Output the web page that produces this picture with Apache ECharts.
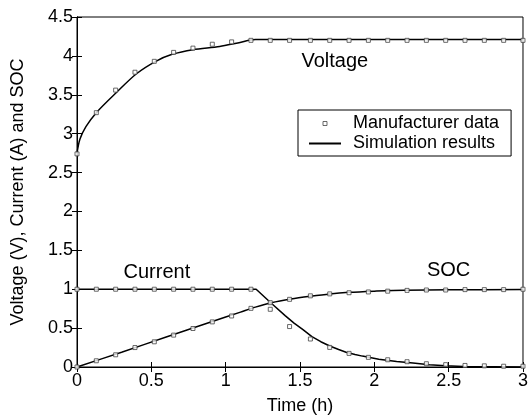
<!DOCTYPE html>
<html>
<head>
<meta charset="utf-8">
<script src="https://cdn.jsdelivr.net/npm/echarts@6/dist/echarts.min.js"></script>
<style>
  html, body { margin: 0; padding: 0; background: #fff; }
  #chart { width: 531px; height: 420px; }
</style>
</head>
<body>
<div id="chart"></div>
<script>
// Sample times of the manufacturer data (h)
const sampleTimes = [0, 0.13, 0.26, 0.39, 0.52, 0.65, 0.78, 0.91, 1.04, 1.17, 1.30, 1.43,
                     1.57, 1.70, 1.83, 1.96, 2.09, 2.22, 2.35, 2.48, 2.61, 2.74, 2.87, 3.00];
// Manufacturer data
const dataVoltage = [2.74, 3.27, 3.56, 3.79, 3.93, 4.045, 4.10, 4.15, 4.18, 4.20, 4.20, 4.20,
                     4.20, 4.20, 4.20, 4.20, 4.20, 4.20, 4.20, 4.20, 4.20, 4.20, 4.20, 4.20];
const dataCurrent = [1, 1, 1, 1, 1, 1, 1, 1, 1, 1, 0.742, 0.52,
                     0.36, 0.252, 0.175, 0.124, 0.093, 0.068, 0.042, 0.03, 0.02, 0.015, 0.01, 0.01];
const dataSOC = [0, 0.08, 0.157, 0.25, 0.324, 0.41, 0.495, 0.58, 0.656, 0.754, 0.827, 0.87,
                 0.915, 0.94, 0.955, 0.965, 0.975, 0.985, 0.99, 0.99, 0.995, 0.995, 0.995, 1.0];

// Simulation results
const simVoltageT = [0, 0.02, 0.06, 0.13, 0.26, 0.40, 0.53, 0.64, 0.78, 0.96, 1.09, 1.20, 3.0];
const simVoltage  = [2.75, 2.93, 3.09, 3.27, 3.52, 3.77, 3.93, 4.02, 4.08, 4.12, 4.17, 4.21, 4.21];
const simCurrentT = [0, 1.205, 1.307, 1.40, 1.46, 1.52, 1.58, 1.64, 1.70, 1.76, 1.81, 1.87, 1.92,
                     2.03, 2.15, 2.26, 2.37, 2.48, 2.6, 3.0];
const simCurrent  = [1, 1, 0.82, 0.66, 0.565, 0.48, 0.39, 0.325, 0.27, 0.225, 0.19, 0.16, 0.14,
                     0.10, 0.07, 0.05, 0.03, 0.015, 0.005, 0];
const simSocT = [0, 0.3, 0.6, 0.9, 1.1, 1.20, 1.307, 1.44, 1.57, 1.70, 1.83, 2.0, 2.2, 2.5, 3.0];
const simSoc  = [0, 0.19, 0.385, 0.578, 0.706, 0.77, 0.827, 0.875, 0.91, 0.94, 0.96, 0.975, 0.988, 0.993, 0.995];

const xTicks = [0, 0.5, 1, 1.5, 2, 2.5, 3];
const yTicks = [0, 0.5, 1, 1.5, 2, 2.5, 3, 3.5, 4, 4.5];

const FONT = '"Liberation Sans", Arial, Helvetica, sans-serif';
const pair = (xs, ys) => xs.map((x, i) => [x, ys[i]]);

const markerStyle = { color: '#fff', borderColor: '#444', borderWidth: 1 };
function dataSeries(values) {
  return {
    name: 'Manufacturer data', type: 'scatter', symbol: 'rect', symbolSize: 4,
    itemStyle: markerStyle, data: pair(sampleTimes, values), z: 3, silent: true
  };
}
function simSeries(xs, ys, smooth) {
  return {
    name: 'Simulation results', type: 'line', symbol: 'none', smooth: smooth,
    lineStyle: { color: '#000', width: 1.5 }, itemStyle: { color: '#000' },
    data: pair(xs, ys), z: 2, silent: true
  };
}

const chart = echarts.init(document.getElementById('chart'), null, { renderer: 'canvas' });

const axisCommon = {
  axisLine: { show: true, lineStyle: { color: '#000', width: 1 } },
  axisTick: { show: true, inside: true, length: 5, lineStyle: { color: '#000' } },
  splitLine: { show: false }
};

// Legend icon: a small hollow square centred in the 32px-wide icon slot
const squareIcon = 'path://M14,0 L18,0 L18,4 L14,4 Z M0,0 L0,0 M32,4 L32,4';

chart.setOption({
  animation: false,
  textStyle: { fontFamily: FONT },
  grid: { left: 77, right: 7, top: 17, bottom: 51, show: true, borderColor: '#000', borderWidth: 1 },
  legend: {
    orient: 'vertical', left: 298, top: 110,
    backgroundColor: '#fff', borderColor: '#000', borderWidth: 1,
    padding: [4, 12, 3, 10], itemGap: 1, itemWidth: 32, itemHeight: 4,
    textStyle: { fontFamily: FONT, fontSize: 18, color: '#000', lineHeight: 19, padding: [0, 0, 0, 7] },
    data: [
      { name: 'Manufacturer data', icon: squareIcon,
        itemStyle: { color: '#fff', borderColor: '#444', borderWidth: 1 } },
      { name: 'Simulation results', itemStyle: { opacity: 0 } }
    ]
  },
  xAxis: [
    Object.assign({}, axisCommon, {
      type: 'value', min: 0, max: 3, interval: 0.5,
      name: 'Time (h)', nameLocation: 'middle', nameGap: 30,
      nameTextStyle: { fontSize: 18, color: '#000', fontFamily: FONT },
      axisLabel: { fontSize: 18, color: '#000', margin: 5, fontFamily: FONT,
                   formatter: v => (xTicks.indexOf(v) >= 0 ? String(v) : '') }
    }),
    Object.assign({}, axisCommon, {
      type: 'value', min: 0, max: 3, interval: 0.5, position: 'top',
      axisLabel: { show: false }
    })
  ],
  yAxis: [
    Object.assign({}, axisCommon, {
      type: 'value', min: 0, max: 4.5, interval: 0.5,
      name: 'Voltage (V), Current (A) and SOC', nameLocation: 'middle', nameGap: 50,
      nameTextStyle: { fontSize: 18, color: '#000', fontFamily: FONT },
      axisLabel: { fontSize: 18, color: '#000', margin: 4, fontFamily: FONT,
                   formatter: v => (yTicks.indexOf(v) >= 0 ? String(v) : '') }
    }),
    Object.assign({}, axisCommon, {
      type: 'value', min: 0, max: 4.5, interval: 0.5, position: 'right',
      axisLabel: { show: false }
    })
  ],
  series: [
    simSeries(simVoltageT, simVoltage, 0.3),
    simSeries(simCurrentT, simCurrent, false),
    simSeries(simSocT, simSoc, 0.3),
    dataSeries(dataVoltage),
    dataSeries(dataCurrent),
    dataSeries(dataSOC)
  ]
});

// In-plot curve labels, anchored at data coordinates
const curveLabels = [
  { text: 'Voltage', at: [1.51, 3.93] },
  { text: 'Current', at: [0.313, 1.215] },
  { text: 'SOC', at: [2.354, 1.24] }
];
chart.setOption({
  graphic: curveLabels.map(l => {
    const p = chart.convertToPixel({ gridIndex: 0 }, l.at);
    return {
      type: 'text', x: p[0], y: p[1], silent: true,
      style: { text: l.text, fontSize: 20, fontFamily: FONT, fill: '#000',
               textAlign: 'left', textVerticalAlign: 'middle' }
    };
  })
});
</script>
</body>
</html>
